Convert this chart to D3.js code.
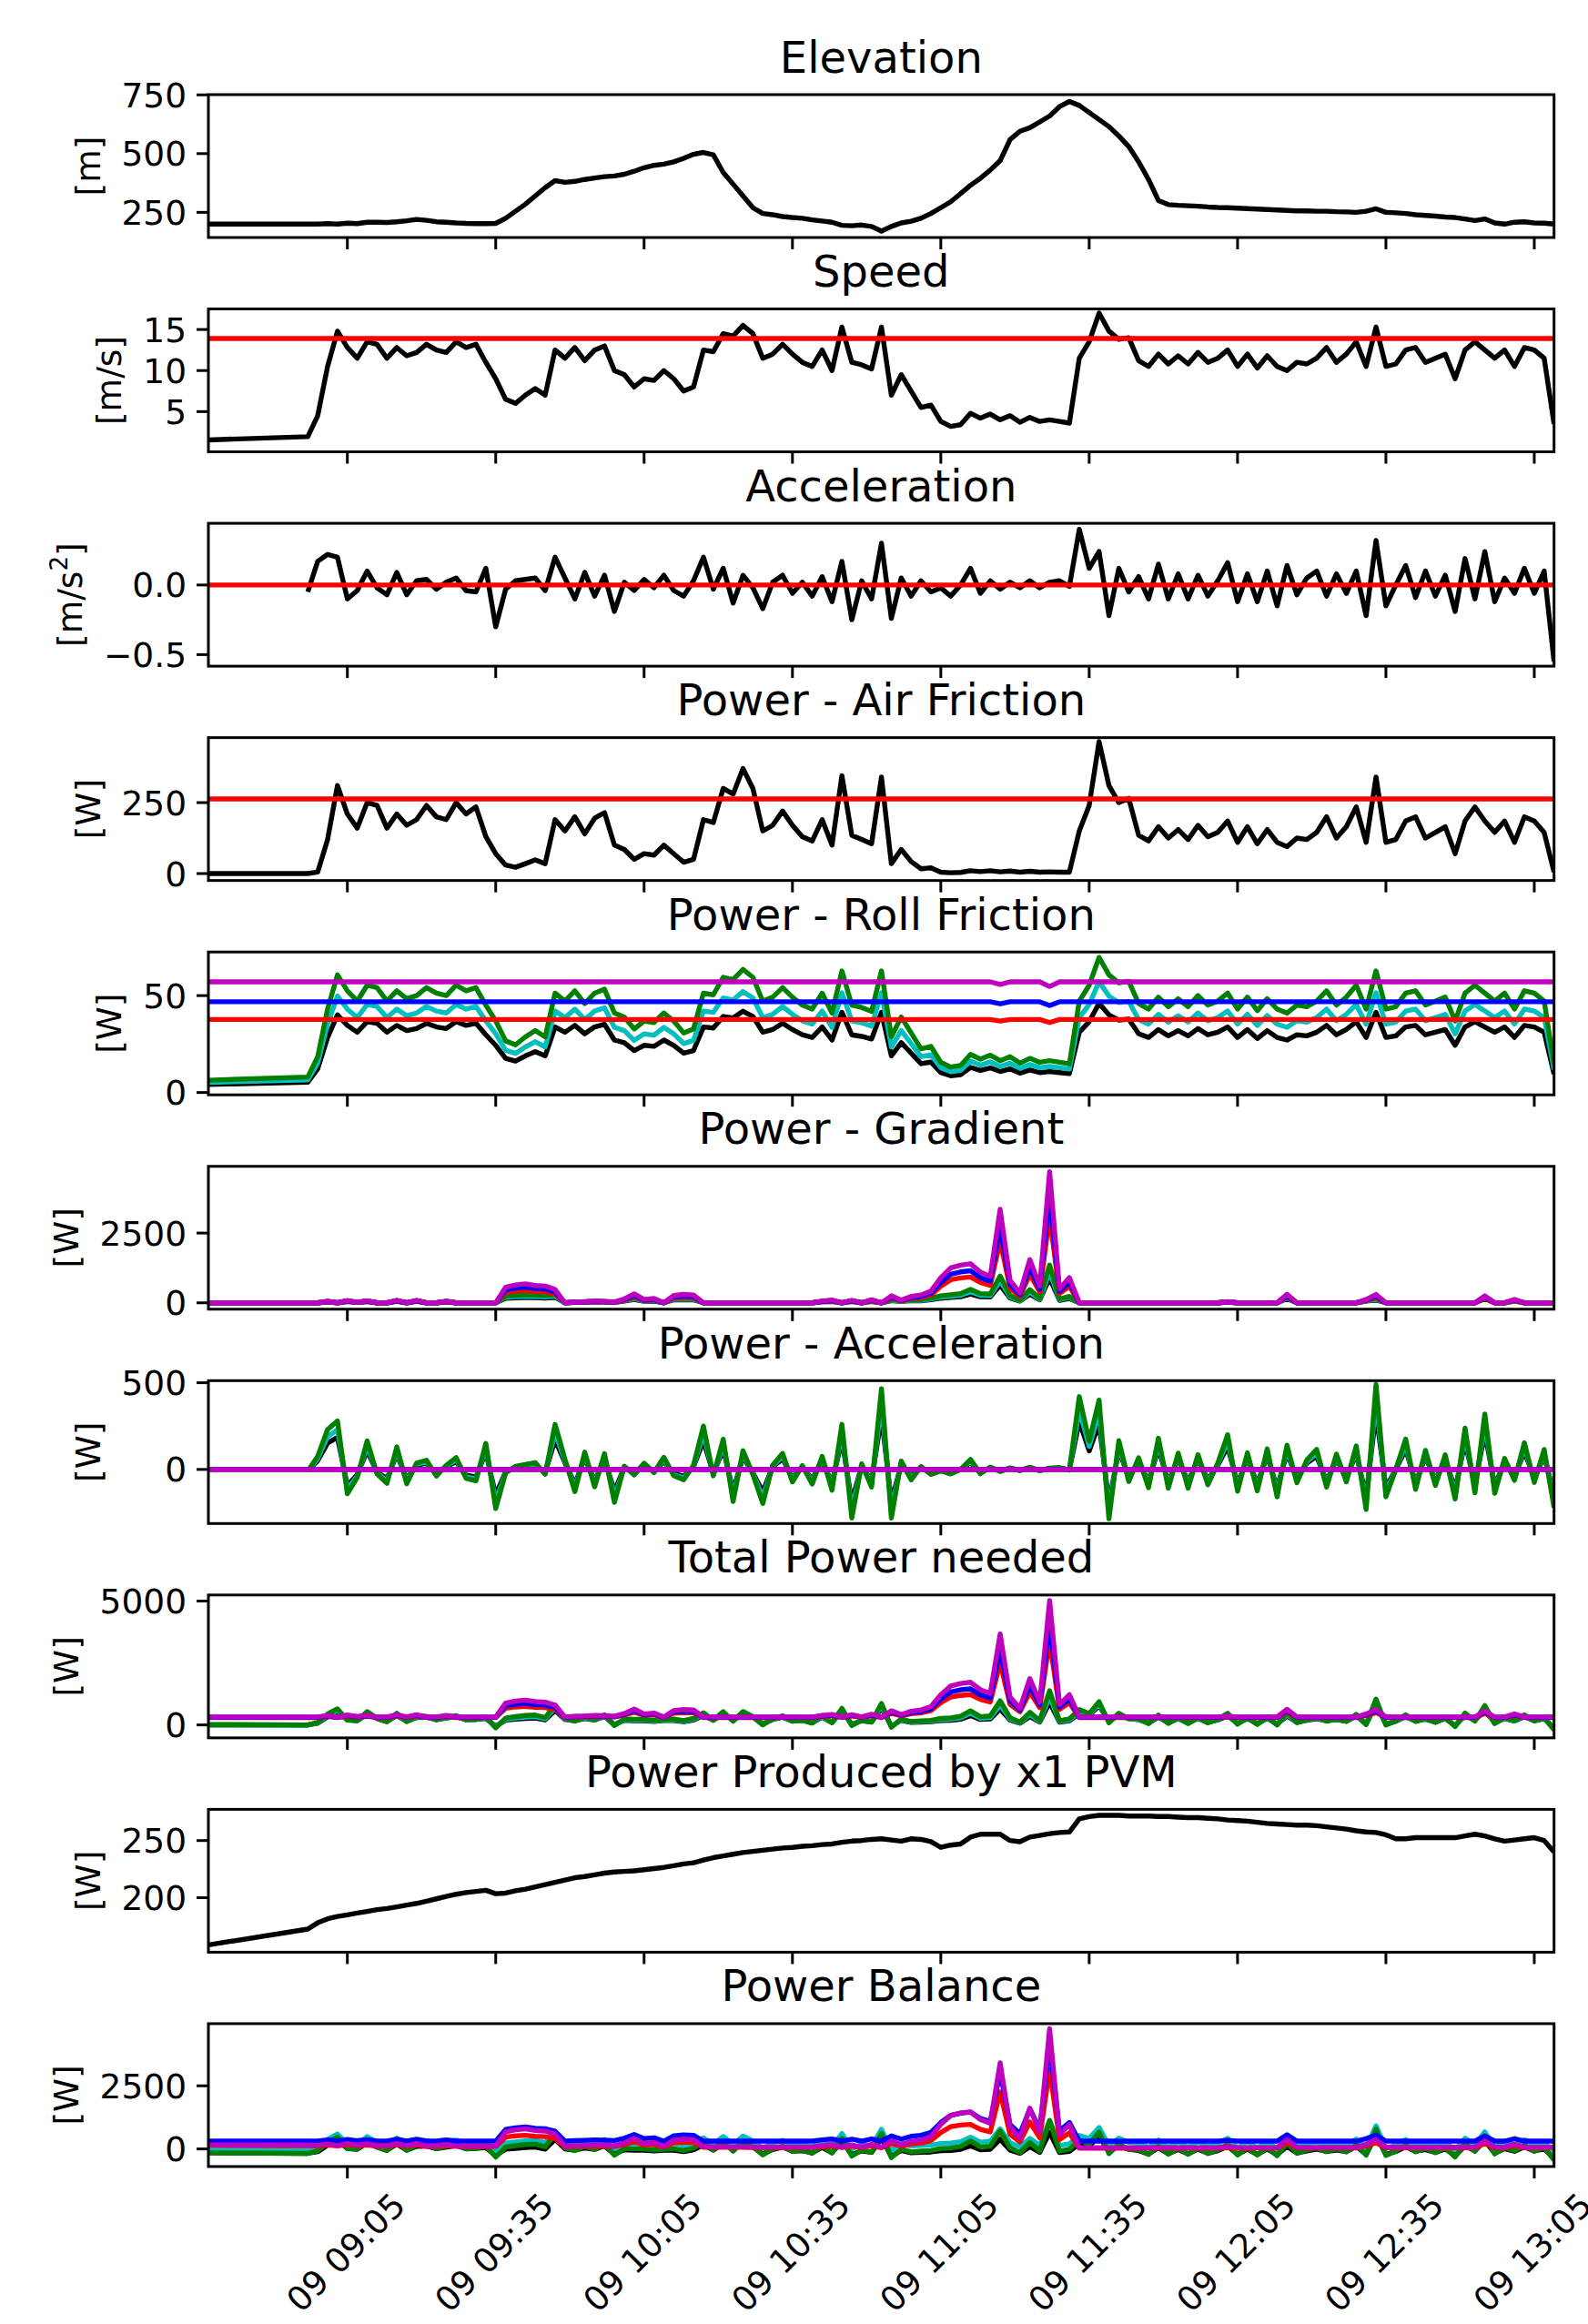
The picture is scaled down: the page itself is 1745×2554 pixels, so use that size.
<!DOCTYPE html>
<html>
<head>
<meta charset="utf-8">
<script src="https://cdn.jsdelivr.net/npm/d3@7"></script>
<style>
  body { margin: 0; background: #fff; }
  svg text { font-family: "DejaVu Sans", sans-serif; fill: #000; }
</style>
</head>
<body>
<svg id="chart" width="1745" height="2554"></svg>
<script>
// sample times, minutes after 09:00 (first fix at 08:37, then a gap)
var minutes = [-23.1].concat(d3.range(-3, 250, 2));
var xTickMinutes = [5, 35, 65, 95, 125, 155, 185, 215, 245];

var elevation = [
  200, 200, 200, 202, 200, 204, 202, 208, 208, 207,
  210, 214, 220, 216, 210, 208, 205, 203, 202, 202,
  203, 225, 255, 285, 320, 355, 385, 378, 382, 390,
  396, 402, 405, 412, 425, 440, 450, 455, 465, 480,
  497, 505, 495, 420, 370, 320, 270, 245, 240, 232,
  228, 225, 218, 213, 208, 195, 193, 196, 190, 170,
  190, 205, 212, 225, 245, 270, 295, 330, 365, 395,
  430, 470, 560, 595, 610, 635, 660, 700, 722, 705,
  675, 645, 615, 575, 530, 465, 390, 300, 283, 280,
  278, 276, 273, 271, 270, 268, 266, 264, 262, 260,
  258, 256, 256, 255, 255, 253, 252, 250, 255, 265,
  250, 248, 245, 240, 237, 234, 230, 228, 222, 215,
  222, 205, 200, 208, 210, 205, 204, 200];

var speed = [
  1.55, 1.95, 4.5, 10.5, 14.8, 12.8, 11.5, 13.5, 13.2, 11.5,
  12.8, 11.8, 12.2, 13.2, 12.5, 12.2, 13.5, 12.8, 13.2, 11,
  9, 6.5, 6.0, 7.0, 7.8, 7.0, 12.5, 11.5, 12.8, 11.2,
  12.5, 13, 10, 9.5, 8, 9, 8.8, 10, 9, 7.5,
  8, 12.5, 12.3, 14.5, 14.2, 15.5, 14.5, 11.5, 12, 13.2,
  12, 11, 10.5, 12.5, 10, 15.3, 11, 10.7, 10.2, 15.3,
  7, 9.5, 7.5, 5.5, 5.8, 3.8, 3.2, 3.4, 4.8, 4.2,
  4.7, 4.0, 4.5, 3.7, 4.3, 3.8, 4.0, 3.8, 3.6, 11.5,
  13.5, 17, 14.8, 13.8, 14, 11.2, 10.5, 12, 10.8, 11.8,
  10.8, 12.2, 11, 11.5, 12.5, 10.5, 12, 10.3, 11.8, 10.5,
  10, 11, 10.8, 11.5, 12.8, 11, 12, 13.5, 10.5, 15.3,
  10.5, 10.8, 12.5, 12.8, 11, 11.5, 12, 9, 12.5, 13.5,
  12.5, 11.5, 12.5, 10.5, 12.8, 12.5, 11.5, 3.5];

var acceleration = [
  null, -0.05, 0.17, 0.22, 0.2, -0.1, -0.04, 0.1, -0.02, -0.07,
  0.09, -0.07, 0.03, 0.04, -0.03, 0.02, 0.05, -0.04, -0.05, 0.12,
  -0.3, -0.03, 0.03, 0.04, 0.05, -0.04, 0.2, 0.05, -0.1, 0.09,
  -0.08, 0.07, -0.19, 0.02, -0.04, 0.04, -0.02, 0.07, -0.04, -0.08,
  0.03, 0.2, -0.03, 0.12, -0.13, 0.07, -0.02, -0.17, 0.02, 0.07,
  -0.06, 0.02, -0.08, 0.06, -0.12, 0.17, -0.25, 0.03, -0.1, 0.3,
  -0.24, 0.05, -0.08, 0.03, -0.05, -0.02, -0.08, 0.0, 0.12, -0.06,
  0.03, -0.03, 0.02, -0.02, 0.03, -0.02, 0.02, 0.03, -0.01, 0.4,
  0.12, 0.24, -0.22, 0.12, -0.05, 0.06, -0.1, 0.15, -0.1, 0.08,
  -0.1, 0.07, -0.08, 0.03, 0.16, -0.12, 0.08, -0.12, 0.1, -0.15,
  0.14, -0.07, 0.05, 0.1, -0.08, 0.08, -0.06, 0.1, -0.22, 0.32,
  -0.15, 0.0, 0.14, -0.09, 0.1, -0.08, 0.07, -0.19, 0.19, -0.1,
  0.24, -0.12, 0.05, -0.06, 0.12, -0.06, 0.1, -0.55];

var airPower = [
  0, 0, 5, 120, 310, 210, 160, 250, 240, 160,
  210, 170, 190, 240, 200, 190, 250, 210, 235, 130,
  70, 30, 22, 35, 48, 35, 190, 150, 200, 140,
  195, 215, 100, 85, 50, 70, 65, 100, 70, 40,
  50, 190, 180, 300, 280, 370, 300, 150, 170, 220,
  170, 130, 115, 190, 100, 345, 135, 120, 105, 340,
  35, 85, 42, 17, 20, 5, 3, 4, 10, 7,
  10, 6, 9, 5, 8, 5, 6, 5, 5, 150,
  240, 465, 310, 250, 265, 135, 115, 165, 125, 155,
  120, 170, 130, 145, 185, 110, 165, 105, 155, 110,
  95, 125, 120, 145, 200, 125, 165, 235, 110, 340,
  110, 120, 185, 200, 125, 145, 165, 70, 185, 235,
  185, 145, 185, 110, 200, 185, 145, 5];

// gradient power at the mean speed (magenta) and at the real speed (green)
var gradientMean = [
  0, 0, 0, 60, 0, 80, 20, 70, 0, 0,
  90, 0, 90, 0, 0, 60, 0, 0, 0, 0,
  0, 560, 640, 680, 620, 600, 480, 0, 30, 40,
  60, 50, 30, 140, 320, 120, 160, 0, 260, 300,
  280, 0, 0, 0, 0, 0, 0, 0, 0, 0,
  0, 0, 0, 60, 100, 0, 90, 0, 110, 0,
  250, 100, 230, 280, 420, 900, 1250, 1350, 1400, 1100,
  950, 3350, 800, 350, 1550, 600, 4700, 500, 900, 0,
  0, 0, 0, 0, 0, 0, 0, 0, 0, 0,
  0, 0, 0, 0, 40, 0, 0, 0, 0, 0,
  310, 0, 0, 0, 0, 0, 0, 0, 120, 300,
  0, 0, 0, 0, 0, 0, 0, 0, 0, 0,
  250, 0, 0, 120, 0, 0, 0, 0];

var gradientReal = [
  0, 0, 0, 45, 0, 75, 18, 68, 0, 0,
  82, 0, 78, 0, 0, 52, 0, 0, 0, 0,
  0, 240, 270, 290, 280, 260, 300, 0, 28, 32,
  55, 45, 22, 95, 180, 80, 100, 0, 165, 160,
  160, 0, 0, 0, 0, 0, 0, 0, 0, 0,
  0, 0, 0, 55, 70, 0, 70, 0, 75, 0,
  120, 70, 120, 110, 170, 250, 290, 330, 480, 330,
  320, 960, 260, 93, 470, 160, 1350, 135, 230, 0,
  0, 0, 0, 0, 0, 0, 0, 0, 0, 0,
  0, 0, 0, 0, 35, 0, 0, 0, 0, 0,
  220, 0, 0, 0, 0, 0, 0, 0, 90, 150,
  0, 0, 0, 0, 0, 0, 0, 0, 0, 0,
  225, 0, 0, 90, 0, 0, 0, 0];

var accelPowerReal = [
  null, -10, 76, 230, 280, -140, -46, 165, -26, -80,
  130, -83, 37, 53, -38, 24, 68, -51, -66, 150,
  -225, -20, 18, 28, 39, -28, 260, 58, -128, 100,
  -100, 91, -190, 19, -32, 36, -18, 70, -36, -60,
  24, 250, -37, 174, -185, 108, -29, -196, 24, 92,
  -72, 22, -84, 75, -120, 260, -280, 32, -102, 465,
  -280, 48, -60, 17, -29, -8, -26, 0, 58, -25,
  14, -12, 9, -7, 13, -8, 8, 11, -4, 420,
  162, 400, -285, 166, -70, 67, -105, 180, -108, 94,
  -108, 85, -88, 35, 200, -126, 96, -124, 118, -158,
  140, -77, 54, 115, -102, 88, -72, 135, -231, 490,
  -158, 0, 175, -115, 110, -92, 84, -171, 238, -135,
  320, -138, 63, -63, 154, -75, 115, -220];

var pvmPower = [
  158.7, 172.5, 178, 181.5, 183.5, 185, 186.5, 188, 189.5, 190.5,
  192, 193.5, 195, 197, 199, 201, 203, 204.5, 205.5, 206.5,
  203.5, 204, 206, 207.5, 209.5, 211.5, 213.5, 215.5, 217.5, 218.5,
  220, 221.5, 222.5, 223, 223.5, 224.5, 225.5, 226.5, 228, 229.5,
  230.5, 233, 235, 236.5, 238, 239.5, 240.5, 241.5, 242.5, 243.5,
  244, 245, 245.5, 246.5, 247, 248.5, 249.5, 250, 251, 251.5,
  250.5, 249.5, 251.5, 251, 249, 244, 246, 247, 253, 255.5,
  255.5, 255.5, 250, 249, 253, 254.5, 256, 257, 257.5, 269,
  271, 272, 272, 272, 271.5, 271.5, 271.5, 271, 271, 270.5,
  270, 270, 269.5, 269, 268, 267.5, 267, 266, 265, 264.5,
  264, 263.5, 263.5, 263, 262, 261, 260, 258.5, 257.5, 257,
  255, 251.5, 251.5, 252.5, 252.5, 252.5, 252.5, 252.5, 254, 255.5,
  254, 251.5, 249.5, 250.5, 251.5, 252.5, 250, 240];

// reference levels (red lines) and per-vehicle factors
var meanSpeed = 13.9;
var meanAccel = 0;
var meanAirPower = 263;
var rollPerSpeed = 4.1;          // W per m/s for the heaviest case
var rollAtMeanSpeed = 57.1;      // W, heaviest case at mean speed
var massRatio = [0.66, 0.82, 1]; // three vehicle cases
var pvCount = [1, 0, 1];         // modules subtracted in the balance
var slopeDipMinutes = [137, 147];
var slopeDipFactor = [0.977, 0.958];
var realColors = ['#000000', '#00bfbf', '#008000'];
var meanColors = ['#ff0000', '#0000ff', '#bf00bf'];

// ---- derived series (same components as the figure) ----
var dip = {};
slopeDipMinutes.forEach(function (m, i) { dip[m] = slopeDipFactor[i]; });
function flat(v) { return minutes.map(function () { return v; }); }

var rollReal = massRatio.map(function (k) { return speed.map(function (v) { return v * rollPerSpeed * k; }); });
var rollMean = massRatio.map(function (k) { return minutes.map(function (m) { return rollAtMeanSpeed * k * (dip[m] || 1); }); });
var gradReal = massRatio.map(function (k) { return gradientReal.map(function (v) { return v * k; }); });
var gradMean = massRatio.map(function (k) { return gradientMean.map(function (v) { return v * k; }); });
var accReal = massRatio.map(function (k) { return accelPowerReal.map(function (v) { return v == null ? null : v * k; }); });
var accMean = massRatio.map(function () { return flat(0); });
var totalReal = massRatio.map(function (k, i) {
  return minutes.map(function (m, j) { return airPower[j] + rollReal[i][j] + gradReal[i][j] + (accReal[i][j] || 0); });
});
var totalMean = massRatio.map(function (k, i) {
  return minutes.map(function (m, j) { return meanAirPower + rollMean[i][j] + gradMean[i][j]; });
});
var balReal = totalReal.map(function (s, i) { return s.map(function (v, j) { return v - pvCount[i] * pvmPower[j]; }); });
var balMean = totalMean.map(function (s, i) { return s.map(function (v, j) { return v - pvCount[i] * pvmPower[j]; }); });

function sixLines(real, mean) {
  return real.map(function (v, i) { return { values: v, color: realColors[i] }; })
    .concat(mean.map(function (v, i) { return { values: v, color: meanColors[i] }; }));
}

var fmtInt = d3.format('d'), fmt1 = d3.format('.1f');
var panels = [
  { title: 'Elevation', ylabel: '[m]', domain: [143, 751], ticks: [250, 500, 750], fmt: fmtInt,
    series: [{ values: elevation, color: '#000000' }] },
  { title: 'Speed', ylabel: '[m/s]', domain: [0.1, 17.5], ticks: [5, 10, 15], fmt: fmtInt,
    series: [{ values: speed, color: '#000000' }, { values: flat(meanSpeed), color: '#ff0000' }] },
  { title: 'Acceleration', ylabel: 'accel', domain: [-0.583, 0.443], ticks: [-0.5, 0.0], fmt: fmt1,
    series: [{ values: acceleration, color: '#000000' }, { values: flat(meanAccel), color: '#ff0000' }] },
  { title: 'Power - Air Friction', ylabel: '[W]', domain: [-24.5, 479], ticks: [0, 250], fmt: fmtInt,
    series: [{ values: airPower, color: '#000000' }, { values: flat(meanAirPower), color: '#ff0000' }] },
  { title: 'Power - Roll Friction', ylabel: '[W]', domain: [-1.2, 72.5], ticks: [0, 50], fmt: fmtInt,
    series: sixLines(rollReal, rollMean) },
  { title: 'Power - Gradient', ylabel: '[W]', domain: [-228, 4891], ticks: [0, 2500], fmt: fmtInt,
    series: sixLines(gradReal, gradMean) },
  { title: 'Power - Acceleration', ylabel: '[W]', domain: [-312, 512], ticks: [0, 500], fmt: fmtInt,
    series: sixLines(accReal, accMean) },
  { title: 'Total Power needed', ylabel: '[W]', domain: [-522, 5244], ticks: [0, 5000], fmt: fmtInt,
    series: sixLines(totalReal, totalMean) },
  { title: 'Power Produced by x1 PVM', ylabel: '[W]', domain: [152.3, 277.3], ticks: [200, 250], fmt: fmtInt,
    series: [{ values: pvmPower, color: '#000000' }] },
  { title: 'Power Balance', ylabel: '[W]', domain: [-697, 4961], ticks: [0, 2500], fmt: fmtInt,
    series: sixLines(balReal, balMean) }
];

// ---- layout ----
var W = 1745, H = 2554;
var axLeft = 229, axRight = 1707.7, axTop0 = 104, axStep = 235.55, axH = 157;
var tickFont = 37.5, xLabelFont = 37, titleFont = 48, lw = 5.4, spineW = 3, tickLen = 13, tickPad = 13;

var day = new Date(2019, 5, 9, 9, 0, 0);
function toTime(m) { return new Date(day.getTime() + m * 60000); }

var svg = d3.select('#chart');
svg.append('rect').attr('width', W).attr('height', H).attr('fill', '#fff');

var x = d3.scaleTime()
  .domain([toTime(minutes[0]), toTime(minutes[minutes.length - 1])])
  .range([axLeft, axRight]);
var xFmt = d3.timeFormat('%d %H:%M');

panels.forEach(function (p, i) {
  var top = axTop0 + i * axStep, bottom = top + axH;
  var y = d3.scaleLinear().domain(p.domain).range([bottom, top]);
  var g = svg.append('g').attr('class', 'panel');

  svg.append('clipPath').attr('id', 'clip' + i)
    .append('rect').attr('x', axLeft).attr('y', top)
    .attr('width', axRight - axLeft).attr('height', axH);

  var line = d3.line()
    .defined(function (d) { return d[1] != null && !isNaN(d[1]); })
    .x(function (d) { return x(toTime(d[0])); })
    .y(function (d) { return y(d[1]); });

  var lines = g.append('g').attr('clip-path', 'url(#clip' + i + ')');
  p.series.forEach(function (s) {
    lines.append('path')
      .datum(minutes.map(function (m, j) { return [m, s.values[j]]; }))
      .attr('d', line)
      .attr('fill', 'none')
      .attr('stroke', s.color)
      .attr('stroke-width', lw)
      .attr('stroke-linejoin', 'round');
  });

  // frame
  g.append('rect').attr('x', axLeft).attr('y', top)
    .attr('width', axRight - axLeft).attr('height', axH)
    .attr('fill', 'none').attr('stroke', '#000').attr('stroke-width', spineW);

  // y ticks
  var maxW = 0;
  p.ticks.forEach(function (t) {
    g.append('line')
      .attr('x1', axLeft - tickLen).attr('x2', axLeft)
      .attr('y1', y(t)).attr('y2', y(t))
      .attr('stroke', '#000').attr('stroke-width', spineW);
    var lab = g.append('text')
      .attr('x', axLeft - tickLen - tickPad + 2).attr('y', y(t))
      .attr('dy', '0.36em').attr('text-anchor', 'end')
      .attr('font-size', tickFont)
      .text(p.fmt(t));
    maxW = Math.max(maxW, lab.node().getComputedTextLength());
  });

  // x ticks
  xTickMinutes.forEach(function (m) {
    var xx = x(toTime(m));
    g.append('line')
      .attr('x1', xx).attr('x2', xx)
      .attr('y1', bottom).attr('y2', bottom + tickLen)
      .attr('stroke', '#000').attr('stroke-width', spineW);
  });

  // title
  g.append('text')
    .attr('x', (axLeft + axRight) / 2).attr('y', top - 24.5)
    .attr('text-anchor', 'middle').attr('font-size', titleFont)
    .text(p.title);

  // y label
  var labX = axLeft - tickLen - tickPad + 2 - maxW - 15 - 0.236 * tickFont;
  var yl = g.append('text')
    .attr('transform', 'translate(' + labX + ',' + ((top + bottom) / 2) + ') rotate(-90)')
    .attr('text-anchor', 'middle').attr('font-size', tickFont);
  if (p.ylabel === 'accel') {
    yl.append('tspan').text('[m/s');
    yl.append('tspan').attr('font-size', tickFont * 0.7).attr('dy', -tickFont * 0.42).text('2');
    yl.append('tspan').attr('dy', tickFont * 0.42).text(']');
  } else {
    yl.text(p.ylabel);
  }

  // x tick labels on the bottom panel only
  if (i === panels.length - 1) {
    xTickMinutes.forEach(function (m) {
      var xx = x(toTime(m));
      var t = g.append('text').attr('font-size', xLabelFont)
        .attr('text-anchor', 'middle').attr('dy', '0.36em')
        .text(xFmt(toTime(m)));
      var w = t.node().getComputedTextLength();
      var half = (w + 0.73 * xLabelFont) / (2 * Math.SQRT2);
      t.attr('transform', 'translate(' + (xx - 2) + ',' + (bottom + 26 + half) + ') rotate(-45)');
    });
  }
});
</script>
</body>
</html>
